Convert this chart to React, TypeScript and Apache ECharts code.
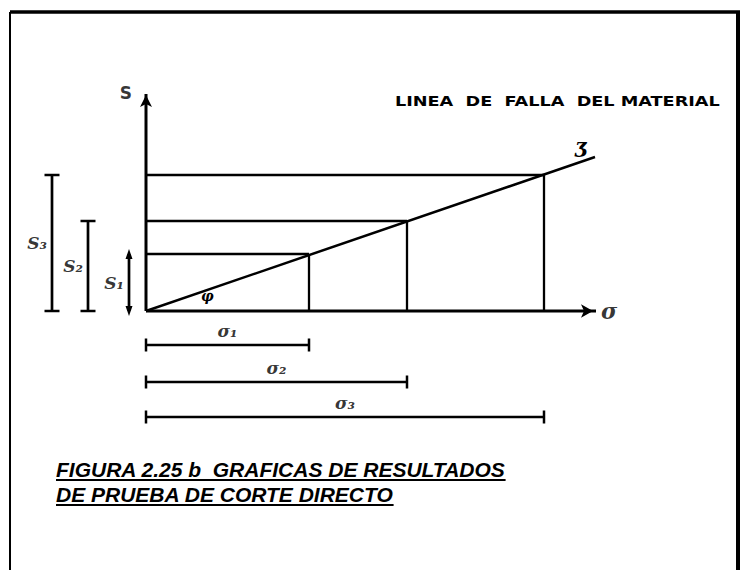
import React, { useEffect, useRef } from "react";
import * as echarts from "echarts";

// ---- data ----
const testIds = ["1", "2", "3"];
const normalStress = [1.63, 2.61, 3.98]; // σ1, σ2, σ3
const shearStress = [0.57, 0.9, 1.36]; // S1, S2, S3
const failureLine = [
  [0, 0],
  [4.49, 1.54],
];
const sLabels = ["S₁", "S₂", "S₃"];
const sigmaLabels = ["σ₁", "σ₂", "σ₃"];
const axisNames = ["σ", "S"];
const envelopeLabel = "LINEA  DE  FALLA  DEL MATERIAL";
const captionLines = ["FIGURA 2.25 b  GRAFICAS DE RESULTADOS", "DE PRUEBA DE CORTE DIRECTO"];

// ---- layout (not data) ----
const X_MIN = -1.36;
const X_MAX = 4.52;
const Y_MIN = -2.59;
const Y_MAX = 2.21;
const S_DIM_X = [-0.17, -0.58, -0.94];
const SIGMA_DIM_Y = [-0.34, -0.71, -1.06];
const CAPTION_X = 56;
const CAPTION_Y = [469, 494];
const CAPTION_FONT = "italic bold 21px 'Liberation Sans'";
const TITLE_FONT = "bold 14px 'DejaVu Sans'";
const TITLE_WIDTH = 325;

function measure(text: string, font: string): number {
  const c = document.createElement("canvas").getContext("2d");
  if (!c) return text.length * 11;
  c.font = font;
  return c.measureText(text).width;
}

const black = "#000";

function seg(data: number[][], width: number) {
  return {
    type: "line",
    data,
    symbol: "none",
    clip: false,
    silent: true,
    lineStyle: { color: black, width },
  };
}

function marks(data: number[][], symbol: string, size: number[], rotate = 0) {
  return {
    type: "scatter",
    data,
    symbol,
    symbolSize: size,
    symbolRotate: rotate,
    clip: false,
    silent: true,
    itemStyle: { color: black, opacity: 1 },
  };
}

function textAt(point: number[], text: string, position: string, distance: number, size: number, extra: any = {}) {
  return {
    type: "scatter",
    data: [point],
    symbolSize: 0,
    clip: false,
    silent: true,
    label: {
      show: true,
      position,
      distance,
      formatter: text,
      color: black,
      fontFamily: "DejaVu Serif",
      fontStyle: "italic",
      fontWeight: "bold",
      fontSize: size,
      ...extra,
    },
  };
}

export default function App() {
  const ref = useRef<HTMLDivElement>(null);
  useEffect(() => {
    if (!ref.current) return;
    const chart = echarts.init(ref.current, undefined, { renderer: "svg" });
    const series: any[] = [];

    // axes
    series.push(seg([[0, 0], [X_MAX - 0.02, 0]], 3));
    series.push(marks([[X_MAX - 0.05, 0]], "arrow", [10, 12], -90));
    series.push(seg([[0, 0], [0, Y_MAX - 0.04]], 3));
    series.push(marks([[0, Y_MAX - 0.05]], "arrow", [9, 12], 0));
    series.push(textAt([X_MAX, 0], axisNames[0], "right", 3, 22));
    series.push(
      textAt([0, Y_MAX - 0.03], axisNames[1], "left", 14, 17, {
        fontFamily: "DejaVu Sans",
        fontStyle: "normal",
      })
    );

    // failure envelope
    series.push(seg(failureLine, 2.5));

    testIds.forEach((_, i) => {
      const sig = normalStress[i];
      const s = shearStress[i];
      // construction lines
      series.push(seg([[0, s], [sig, s]], 2.5));
      series.push(seg([[sig, 0], [sig, s]], 2.3));
      // S dimension
      const dx = S_DIM_X[i];
      series.push(seg([[dx, 0], [dx, s]], 2.7));
      if (i === 0) {
        series.push(marks([[dx, s]], "triangle", [7, 10], 0));
        series.push(marks([[dx, 0]], "triangle", [7, 10], 180));
      } else {
        series.push(marks([[dx, 0], [dx, s]], "rect", [15, 2.5]));
      }
      series.push(textAt([dx, s / 2], sLabels[i], "left", 5, 17));
      // sigma dimension
      const dy = SIGMA_DIM_Y[i];
      series.push(seg([[0, dy], [sig, dy]], 2.3));
      series.push(marks([[0, dy], [sig, dy]], "rect", [2.5, 13]));
      series.push(textAt([sig / 2, dy], sigmaLabels[i], "top", 6, 17));
    });

    const titleW = measure(envelopeLabel, TITLE_FONT);
    const graphic: any[] = [
      { type: "line", shape: { x1: 10, y1: 12, x2: 740, y2: 12 }, style: { stroke: black, lineWidth: 3.5 } },
      { type: "line", shape: { x1: 10, y1: 12, x2: 10, y2: 570 }, style: { stroke: black, lineWidth: 2 } },
      { type: "line", shape: { x1: 738, y1: 12, x2: 738, y2: 570 }, style: { stroke: black, lineWidth: 4 } },
      {
        type: "text",
        x: 395,
        y: 101,
        scaleX: TITLE_WIDTH / titleW,
        style: { text: envelopeLabel, font: TITLE_FONT, fill: black, textVerticalAlign: "middle" },
      },
      {
        type: "text",
        x: 575,
        y: 136,
        style: { text: "ʒ", font: "italic bold 20px 'DejaVu Serif'", fill: black },
      },
      {
        type: "text",
        x: 201,
        y: 289,
        style: { text: "φ", font: "italic bold 14px 'DejaVu Serif'", fill: black },
      },
    ];
    captionLines.forEach((t, i) => {
      const w = measure(t, CAPTION_FONT);
      graphic.push({
        type: "text",
        x: CAPTION_X,
        y: CAPTION_Y[i],
        style: { text: t, font: CAPTION_FONT, fill: black, textVerticalAlign: "middle" },
      });
      graphic.push({
        type: "rect",
        shape: { x: CAPTION_X, y: CAPTION_Y[i] + 10, width: w, height: 2 },
        style: { fill: black },
      });
    });

    const hiddenAxis = {
      type: "value",
      axisLine: { show: false },
      axisTick: { show: false },
      axisLabel: { show: false },
      splitLine: { show: false },
    };
    chart.setOption({
      animation: false,
      backgroundColor: "#fff",
      grid: { left: 10, top: 90, width: 588, height: 480, containLabel: false },
      xAxis: { ...hiddenAxis, min: X_MIN, max: X_MAX },
      yAxis: { ...hiddenAxis, min: Y_MIN, max: Y_MAX },
      series,
      graphic,
    });
    return () => chart.dispose();
  }, []);
  return (
    <div
      ref={ref}
      style={{ position: "absolute", left: 0, top: 0, width: 745, height: 570, background: "#fff" }}
    />
  );
}
